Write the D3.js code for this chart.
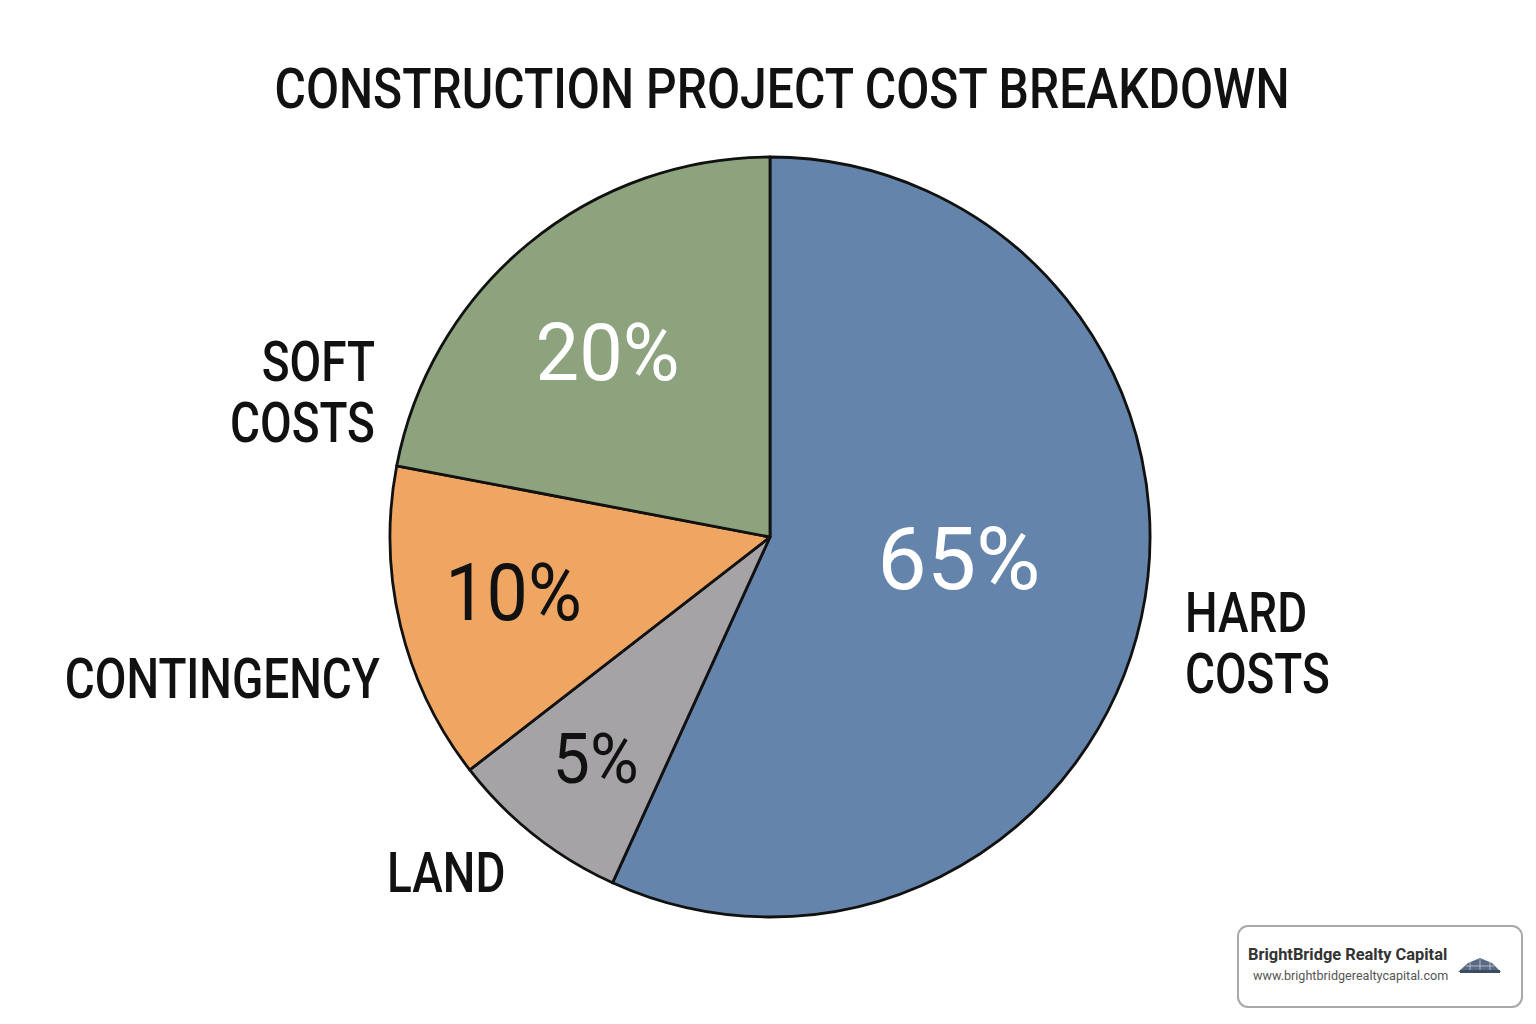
<!DOCTYPE html>
<html>
  <head>
    <meta charset="utf-8">
    <title>Construction Project Cost Breakdown</title>
    <script src="https://d3js.org/d3.v7.min.js"></script>
    <style>
      body{
        margin: 0;
        background: #ffffff;
      }
      text{
        font-family: Roboto, "Liberation Sans", sans-serif;
      }
      .cat-label{
        font-size: 56px;
        font-weight: 500;
        fill: #111;
      }
      .pct-label{
        font-weight: 400;
      }
    </style>
  </head>
  <body>
    <div id="container"></div>
    <script>

      // DATA
      const categories = ["HARD COSTS", "LAND", "CONTINGENCY", "SOFT COSTS"];
      // percentages printed on the slices
      const pctLabels = [65, 5, 10, 20];
      // slice shares as drawn in the picture (clockwise from 12 o'clock)
      const sliceShares = [56.8, 7.7, 13.5, 22.0];
      const colors = ["#6584ab", "#a5a3a5", "#efa662", "#8ca37d"];
      const pctColors = ["#ffffff", "#111111", "#111111", "#ffffff"];

      // SET DIMENSIONS
      const width = 1536,
        height = 1024,
        cx = 770,
        cy = 537,
        radius = 380;

      const svg = d3.select("#container")
        .append("svg")
        .attr("width", width)
        .attr("height", height);

      // TITLE
      const title = svg.append("text")
        .attr("x", 782)
        .attr("y", 108)
        .attr("text-anchor", "middle")
        .attr("font-size", 56)
        .attr("font-weight", 500)
        .attr("fill", "#111")
        .text("CONSTRUCTION PROJECT COST BREAKDOWN");
      title.attr("textLength", 1015).attr("lengthAdjust", "spacingAndGlyphs");

      const data = categories.map((c, i) => ({
        name: c, pct: pctLabels[i], share: sliceShares[i], color: colors[i], pctColor: pctColors[i]
      }));

      const pie = d3.pie()
        .sort(null)
        .value(d => d.share);
      const arcs = pie(data);

      const arc = d3.arc()
        .innerRadius(0)
        .outerRadius(radius);

      const g = svg.append("g")
        .attr("transform", "translate(" + cx + "," + cy + ")");

      // SLICES
      g.selectAll(".slice")
        .data(arcs)
        .join("path")
        .attr("class", "slice")
        .attr("d", arc)
        .attr("fill", d => d.data.color)
        .attr("stroke", "#111")
        .attr("stroke-width", 2.8)
        .attr("stroke-linejoin", "round");

      // PERCENT LABELS - radius factor, font size and squeeze per slice
      const pctRadius = [0.5, 0.74, 0.69, 0.65];
      const pctSize = [88, 70, 80, 80];
      const pctSqueeze = [1.0, 0.95, 0.92, 0.97];
      const pctAngleShift = [-6, 0, 1.5, -1.5];

      g.selectAll(".pct-label")
        .data(arcs)
        .join("text")
        .attr("class", "pct-label")
        .each(function (d, i) {
          const a = ((d.startAngle + d.endAngle) / 2) + pctAngleShift[i] * Math.PI / 180;
          const r = radius * pctRadius[i];
          d3.select(this)
            .attr("x", Math.sin(a) * r)
            .attr("y", -Math.cos(a) * r)
            .attr("dy", "0.36em")
            .attr("text-anchor", "middle")
            .attr("font-size", pctSize[i])
            .attr("fill", d.data.pctColor)
            .text(d.data.pct + "%");
          const w = this.getComputedTextLength();
          d3.select(this).attr("textLength", w * pctSqueeze[i]).attr("lengthAdjust", "spacingAndGlyphs");
        });

      // CATEGORY LABELS - placed around the pie (angle in degrees, clockwise from top)
      const catAngle = [104.2, 218.3, 250.1, 290.2];
      const catDist = [428, 427, 415, 421];
      const lineHeight = 61;

      g.selectAll(".cat-label")
        .data(arcs)
        .join("text")
        .attr("class", "cat-label")
        .each(function (d, i) {
          const a = catAngle[i] * Math.PI / 180;
          const x = Math.sin(a) * catDist[i];
          const y = -Math.cos(a) * catDist[i];
          const words = d.data.name.split(" ");
          const lines = d.data.name === "CONTINGENCY" || words.length === 1 ? [d.data.name] : words;
          const t = d3.select(this)
            .attr("text-anchor", x > 0 ? "start" : "end");
          lines.forEach((ln, k) => {
            const span = t.append("tspan")
              .attr("x", x)
              .attr("y", y + (k - (lines.length - 1) / 2) * lineHeight)
              .attr("dy", "0.36em")
              .text(ln);
            const w = span.node().getComputedTextLength();
            span.attr("textLength", w * 0.82).attr("lengthAdjust", "spacingAndGlyphs");
          });
        });

      // BRAND BOX
      const brand = svg.append("g")
        .attr("transform", "translate(1238,926)");
      brand.append("rect")
        .attr("width", 284)
        .attr("height", 81)
        .attr("rx", 10)
        .attr("fill", "#ffffff")
        .attr("stroke", "#a9a9a9")
        .attr("stroke-width", 2);
      brand.append("text")
        .attr("x", 10)
        .attr("y", 34)
        .attr("font-size", 16.4)
        .attr("font-weight", 700)
        .attr("fill", "#333")
        .text("BrightBridge Realty Capital");
      brand.append("text")
        .attr("x", 15)
        .attr("y", 54)
        .attr("font-size", 12.6)
        .attr("fill", "#555")
        .text("www.brightbridgerealtycapital.com");
      // tiny logo mark
      const logo = brand.append("g")
        .attr("transform", "translate(220,32)");
      logo.append("path")
        .attr("d", "M0,14 L10,5 L22,0 L34,5 L43,14 Z")
        .attr("fill", "#5a6a82");
      logo.append("rect")
        .attr("x", 2).attr("y", 12).attr("width", 40).attr("height", 3)
        .attr("fill", "#3d4b60");
      logo.append("path")
        .attr("d", "M8,8 H36 M12,4 V12 M22,1 V12 M32,4 V12")
        .attr("stroke", "#c9d0da")
        .attr("stroke-width", 0.8);

    </script>
  </body>
</html>
